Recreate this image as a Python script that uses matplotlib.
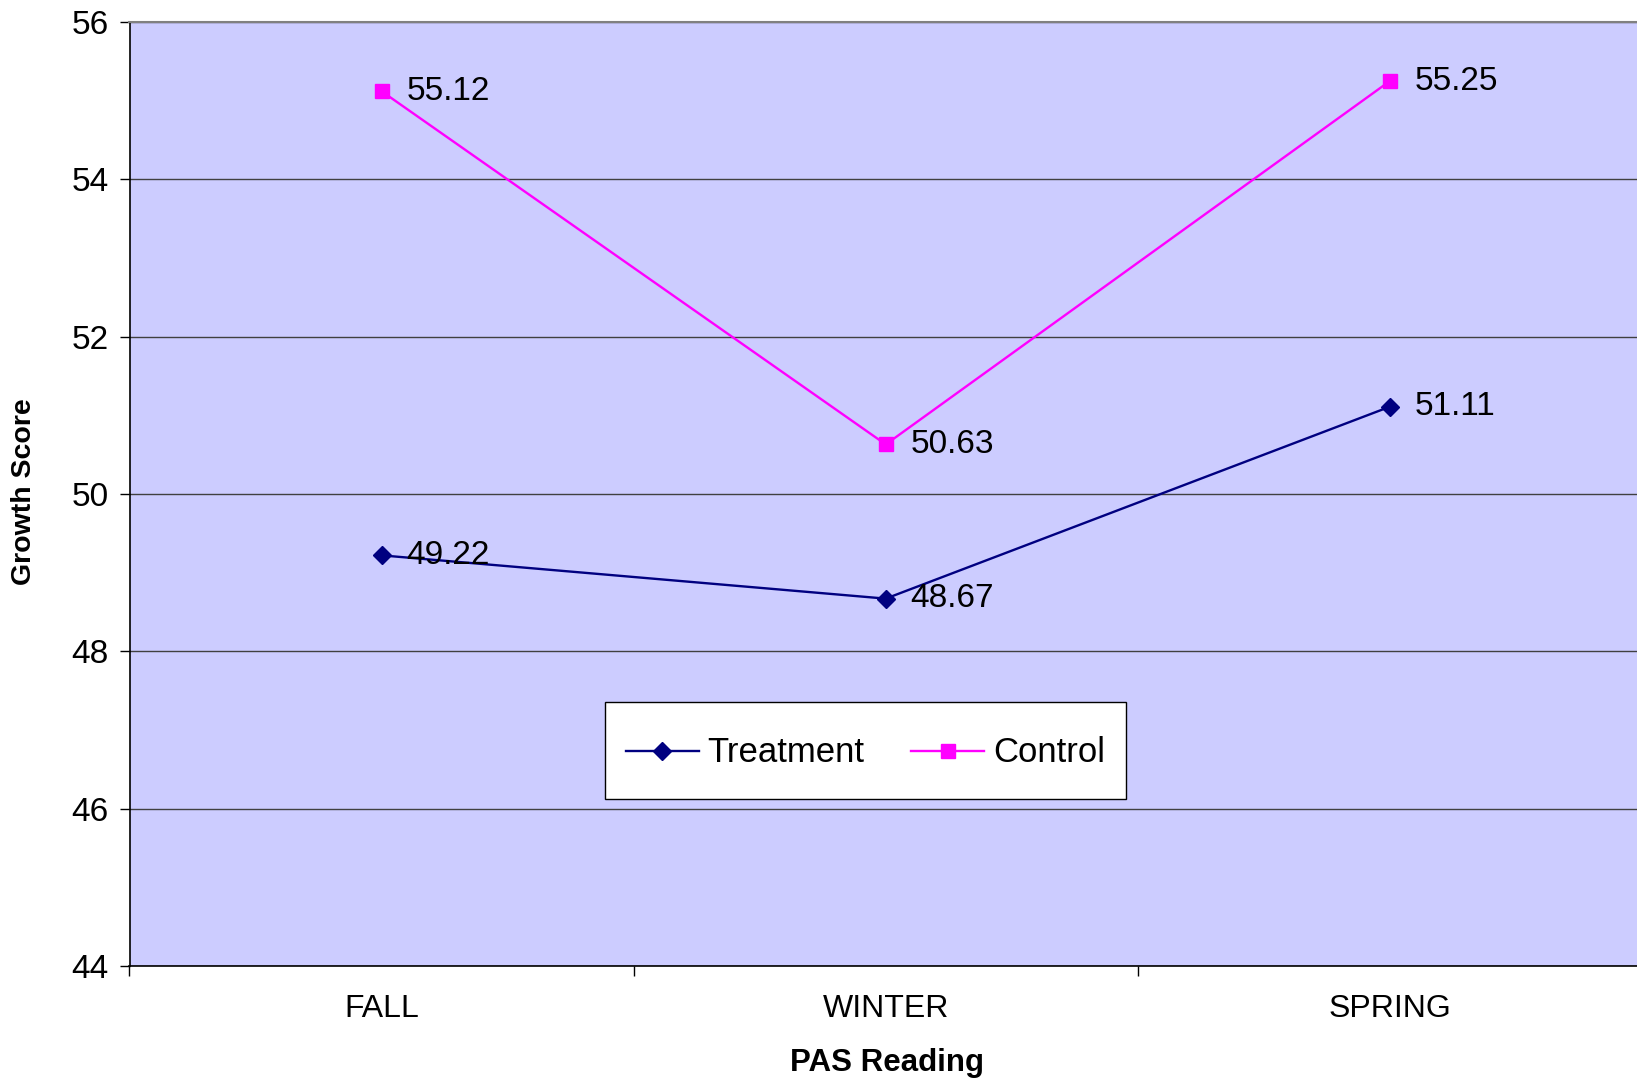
import matplotlib
matplotlib.use("Agg")
import matplotlib.pyplot as plt
from matplotlib.ticker import FixedLocator
from matplotlib.legend_handler import HandlerLine2D

plt.rcParams['font.family'] = ['Liberation Sans', 'DejaVu Sans']

# growth scores by reading season
seasons = ['FALL', 'WINTER', 'SPRING']
treatment = [49.22, 48.67, 51.11]
control = [55.12, 50.63, 55.25]


class LowLine(HandlerLine2D):
    # drop the legend sample line a little so it sits level with the label text
    def create_artists(self, legend, orig_handle, xdescent, ydescent, width, height, fontsize, trans):
        arts = super().create_artists(legend, orig_handle, xdescent, ydescent,
                                      width, height, fontsize, trans)
        for a in arts:
            a.set_ydata([y - 0.24 * fontsize for y in a.get_ydata()])
        return arts


W, H = 1637, 1079
fig = plt.figure(figsize=(W / 100, H / 100), dpi=100)
# axes run slightly past the right edge of the figure
ax = fig.add_axes([129.5 / W, 1 - 966 / H, (1642 - 129.5) / W, (966 - 22) / H])
ax.set_facecolor('#CCCCFF')

x = list(range(len(seasons)))
l1, = ax.plot(x, treatment, color='#000080', lw=1.7, marker='D', ms=9, label='Treatment')
l2, = ax.plot(x, control, color='#FF00FF', lw=1.7, marker='s', ms=10.5, label='Control')

for xs, ys in [(x, treatment), (x, control)]:
    for xi, yi in zip(xs, ys):
        ax.annotate(f'{yi:.2f}', (xi, yi), xytext=(18, 0), textcoords='offset points',
                    va='center', ha='left', fontsize=24)

ax.set_xlim(-0.5, 2.5)
ax.set_ylim(44, 56)
ax.set_yticks(range(44, 57, 2))
ax.yaxis.grid(True, color='#404040', lw=1)
ax.set_axisbelow(True)

ax.set_xticks(x)
ax.set_xticklabels(seasons)
ax.xaxis.set_minor_locator(FixedLocator([-0.5, 0.5, 1.5, 2.5]))
ax.tick_params(axis='x', which='major', length=0, pad=20, labelsize=23)
ax.tick_params(axis='x', which='minor', length=7, width=1)
ax.tick_params(axis='y', length=7, width=1, pad=8, labelsize=24)

for s in ['left', 'bottom']:
    ax.spines[s].set_color('black')
    ax.spines[s].set_linewidth(1.2)
ax.spines['top'].set_color('#808080')
ax.spines['top'].set_linewidth(1.5)
ax.spines['right'].set_visible(False)

fig.text(887 / W, 1 - 1063 / H, 'PAS Reading', ha='center', va='center',
         fontsize=22.5, fontweight='bold')
fig.text(24 / W, 1 - 492 / H, 'Growth Score', ha='center', va='center',
         rotation=90, fontsize=20.5, fontweight='bold')

leg = ax.legend(loc='center', bbox_to_anchor=(0.5287, 0.3043), bbox_transform=fig.transFigure,
                ncol=2, fontsize=25, frameon=True, fancybox=False, edgecolor='black',
                framealpha=1, handlelength=2.1, handleheight=2.05, handletextpad=0.25,
                columnspacing=1.35, borderpad=0.6, borderaxespad=0,
                handler_map={l1: LowLine(), l2: LowLine()})
leg.get_frame().set_linewidth(1)

fig.savefig('out.png', dpi=100)
